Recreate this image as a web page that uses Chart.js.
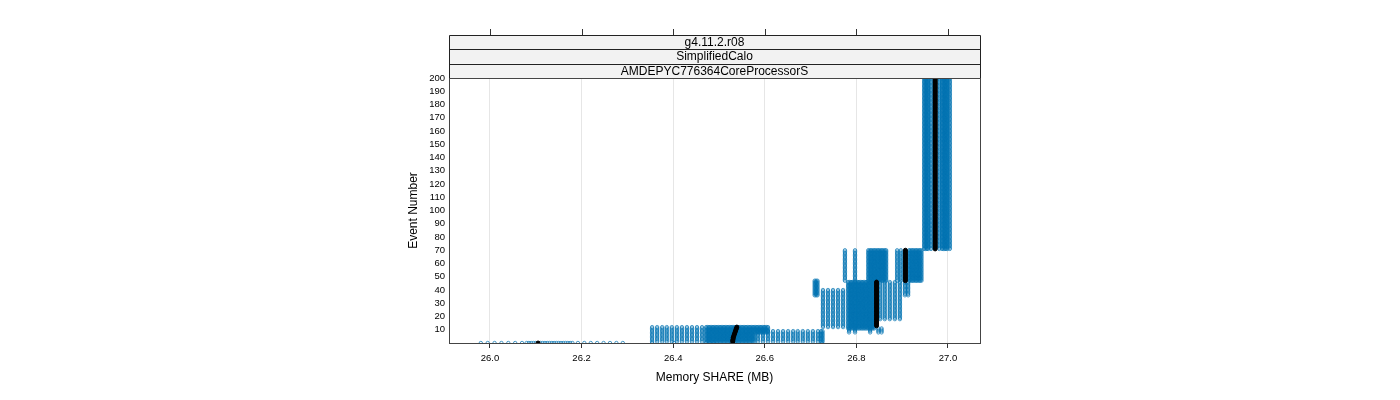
<!DOCTYPE html>
<html><head><meta charset="utf-8">
<script src="https://cdn.jsdelivr.net/npm/chart.js@4/dist/chart.umd.min.js"></script>
<style>html,body{margin:0;padding:0;background:#fff;}canvas{display:block;}</style>
</head><body>
<canvas id="c" width="1400" height="400"></canvas>
<script>
// ---- labels / ticks ----
const stripLabels = ["g4.11.2.r08", "SimplifiedCalo", "AMDEPYC776364CoreProcessorS"];
const xTitle = "Memory SHARE (MB)";
const yTitle = "Event Number";
const xTicks = [26.0, 26.2, 26.4, 26.6, 26.8, 27.0];
const yTicks = [10,20,30,40,50,60,70,80,90,100,110,120,130,140,150,160,170,180,190,200];
const xRange = [25.9105, 27.0699];
const yRange = [0, 200];

// ---- observed memory columns (MB) per event range ----
const ev0Range = [0, 0];
const ev0X = [25.980, 25.995, 26.010, 26.025, 26.040, 26.055, 26.070,
  26.080, 26.085, 26.090, 26.095, 26.100, 26.110, 26.115, 26.120, 26.125, 26.130, 26.135, 26.140,
  26.145, 26.150, 26.155, 26.160, 26.165, 26.170, 26.175, 26.180,
  26.192, 26.206, 26.220, 26.234, 26.248, 26.262, 26.276, 26.290,
  26.354, 26.402, 26.472, 26.480, 26.489, 26.725];

const bSparseRange = [1, 12];
const bSparseX = [26.354, 26.365, 26.376, 26.386, 26.397, 26.408, 26.419, 26.430, 26.441, 26.452, 26.463];
const bDenseRange = [1, 12];
const bDenseX = [26.472, 26.475, 26.478, 26.481, 26.484, 26.487, 26.490, 26.493, 26.496, 26.499,
  26.502, 26.505, 26.508, 26.511, 26.514, 26.517, 26.520, 26.523, 26.526, 26.529, 26.532, 26.535,
  26.538, 26.541, 26.544, 26.547, 26.550, 26.553, 26.556, 26.559, 26.562, 26.565, 26.568, 26.571,
  26.574, 26.577];
const bTopRange = [8, 12];
const bTopX = [26.580, 26.583, 26.586, 26.589, 26.592, 26.595, 26.598, 26.601, 26.604, 26.607];
const bRightRange = [1, 9];
const bRightX = [26.585, 26.596, 26.607, 26.618, 26.629, 26.640, 26.651, 26.662, 26.672, 26.683,
  26.694, 26.705, 26.716, 26.723, 26.726];

const cLeftRange = [12, 40];
const cLeftX = [26.727, 26.738, 26.749, 26.760, 26.771];
const cEdgeRange = [36, 47];
const cEdgeX = [26.709, 26.712, 26.715];
const cDenseRange = [11, 46];
const cDenseX = [26.782, 26.785, 26.788, 26.791, 26.794, 26.797, 26.800, 26.803, 26.806, 26.809,
  26.812, 26.815, 26.818, 26.821, 26.824, 26.827, 26.830, 26.833, 26.836, 26.839];
const cRightRange = [18, 46];
const cRightX = [26.852, 26.862, 26.873, 26.884, 26.895];
const cTopRange = [36, 46];
const cTopX = [26.906, 26.913];
const cLowRange = [8, 11];
const cLowX = [26.784, 26.797, 26.830, 26.848, 26.855];

const dColsRange = [47, 70];
const dColsX = [26.775, 26.797];
const dDenseRange = [47, 70];
const dDenseX = [26.826, 26.829, 26.832, 26.835, 26.838, 26.841, 26.844, 26.847, 26.850, 26.853,
  26.856, 26.859, 26.862, 26.865];
const dSparseRange = [47, 70];
const dSparseX = [26.889, 26.897];
const dDense2Range = [47, 70];
const dDense2X = [26.915, 26.918, 26.921, 26.924, 26.927, 26.930, 26.933, 26.936, 26.939, 26.942];

const eRange = [71, 200];
const eX = [26.948, 26.951, 26.954, 26.957, 26.963, 26.981, 26.987, 26.990, 26.993, 26.996, 26.999, 27.004];

// ---- median per event: [fromEvent, toEvent, MB] ----
const medianRuns = [[0, 0, 26.105], [1, 1, 26.530], [2, 2, 26.530], [3, 3, 26.531], [4, 4, 26.531],
  [5, 5, 26.532], [6, 6, 26.533], [7, 7, 26.534], [8, 8, 26.535], [9, 9, 26.536], [10, 10, 26.537],
  [11, 11, 26.538], [12, 12, 26.539], [13, 46, 26.844], [47, 70, 26.907], [71, 200, 26.972]];

const blocks = [
  [ev0Range, ev0X], [bSparseRange, bSparseX], [bDenseRange, bDenseX], [bTopRange, bTopX],
  [bRightRange, bRightX], [cLeftRange, cLeftX], [cEdgeRange, cEdgeX], [cDenseRange, cDenseX],
  [cRightRange, cRightX], [cTopRange, cTopX], [cLowRange, cLowX], [dColsRange, dColsX],
  [dDenseRange, dDenseX], [dSparseRange, dSparseX], [dDense2Range, dDense2X], [eRange, eX]
];

const runPoints = [];
for (const [r, xs] of blocks) {
  for (let e = r[0]; e <= r[1]; e++) for (const x of xs) runPoints.push({x: x, y: e});
}
const medianPoints = [];
for (const [a, b, x] of medianRuns) for (let e = a; e <= b; e++) medianPoints.push({x: x, y: e});

const FONT = "'Liberation Sans', Arial, sans-serif";
const BLUE = 'rgb(0,114,178)';

const stripPlugin = {
  id: 'strips',
  afterDraw(chart) {
    const ctx = chart.ctx;
    const {left, right, top, bottom} = chart.chartArea;
    const h = 43 / 3;
    const y0 = top - 43;
    ctx.save();
    ctx.lineWidth = 1;
    for (let i = 0; i < stripLabels.length; i++) {
      ctx.fillStyle = '#f2f2f2';
      ctx.fillRect(left, y0 + i * h, right - left, h);
    }
    ctx.strokeStyle = '#222';
    ctx.beginPath();
    for (let i = 0; i <= stripLabels.length; i++) {
      const ys = Math.round(y0 + i * h) + 0.5;
      ctx.moveTo(left + 0.5, ys); ctx.lineTo(right + 0.5, ys);
    }
    ctx.moveTo(left + 0.5, y0 + 0.5); ctx.lineTo(left + 0.5, top);
    ctx.moveTo(right + 0.5, y0 + 0.5); ctx.lineTo(right + 0.5, top);
    ctx.stroke();
    ctx.fillStyle = '#000';
    ctx.font = '12px ' + FONT;
    ctx.textAlign = 'center';
    ctx.textBaseline = 'middle';
    for (let i = 0; i < stripLabels.length; i++) {
      ctx.fillText(stripLabels[i], (left + right) / 2, y0 + i * h + h / 2 + 0.5);
    }
    const xs = chart.scales.x;
    ctx.strokeStyle = '#333';
    ctx.beginPath();
    for (const v of xTicks) {
      const px = Math.round(xs.getPixelForValue(v)) + 0.5;
      ctx.moveTo(px, y0 - 6); ctx.lineTo(px, y0);
    }
    ctx.stroke();
    ctx.strokeStyle = '#444';
    ctx.strokeRect(left + 0.5, top + 0.5, right - left, bottom - top);
    ctx.restore();
  }
};

new Chart(document.getElementById('c'), {
  type: 'scatter',
  data: {
    datasets: [
      {data: medianPoints, pointRadius: 2.0, pointBorderWidth: 1, pointBackgroundColor: '#000',
       pointBorderColor: '#000', clip: 0},
      {data: runPoints, pointRadius: 1.7, pointBorderWidth: 0.7, pointBackgroundColor: 'rgba(0,0,0,0)',
       pointBorderColor: BLUE, clip: 0}
    ]
  },
  options: {
    responsive: false, animation: false, devicePixelRatio: 1, events: [],
    layout: {padding: {left: 402, right: 420, top: 78, bottom: 12}},
    plugins: {legend: {display: false}, tooltip: {enabled: false}},
    scales: {
      x: {
        type: 'linear', position: 'bottom', min: xRange[0], max: xRange[1],
        afterBuildTicks: s => { s.ticks = xTicks.map(v => ({value: v})); },
        afterFit: s => { s.height = 45; },
        ticks: {font: {size: 9.5, family: FONT}, color: '#000', padding: 5, maxRotation: 0,
                autoSkip: false, callback: v => Number(v).toFixed(1)},
        grid: {color: '#e6e6e6', tickColor: '#333', tickLength: 5, drawTicks: true},
        border: {display: false},
        title: {display: true, text: xTitle, color: '#000', font: {size: 12, family: FONT},
                padding: {top: 4, bottom: 3}}
      },
      y: {
        type: 'linear', position: 'left', min: yRange[0], max: yRange[1],
        afterBuildTicks: s => { s.ticks = yTicks.map(v => ({value: v})); },
        afterFit: s => { s.width = 47; },
        ticks: {font: {size: 9.5, family: FONT}, color: '#000', padding: 4, autoSkip: false},
        grid: {display: false, drawTicks: false},
        border: {display: false},
        title: {display: true, text: yTitle, color: '#000', font: {size: 12, family: FONT},
                padding: {top: 4, bottom: 4}}
      }
    }
  },
  plugins: [stripPlugin]
});
</script>
</body></html>
